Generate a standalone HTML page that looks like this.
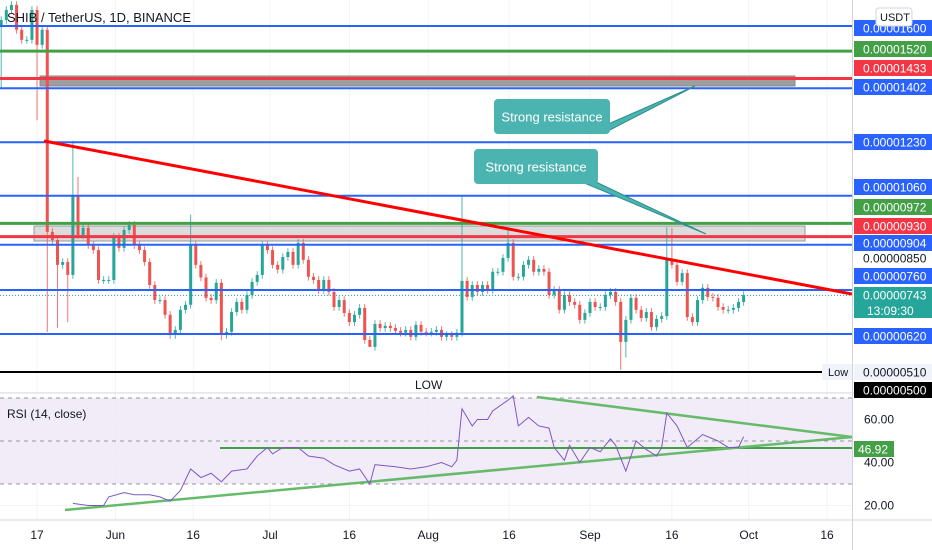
<!DOCTYPE html>
<html><head><meta charset="utf-8"><style>
body{margin:0;background:#fff;font-family:"Liberation Sans",sans-serif}
svg{display:block}
</style></head><body>
<svg id="c" width="932" height="550" viewBox="0 0 932 550" xmlns="http://www.w3.org/2000/svg">
<defs><clipPath id="pp"><rect x="0" y="0" width="852" height="392"/></clipPath><clipPath id="rp"><rect x="0" y="393" width="852" height="127"/></clipPath></defs>
<g id="grid"></g>
<g id="price" clip-path="url(#pp)"></g>
<g id="rsi" clip-path="url(#rp)"></g>
<g id="over"></g>
</svg>
<script>
const closes=[1619,1651,1667,1588,1556,1556,1651,1540,1588,945,919,840,849,808,1062,935,958,903,887,792,792,792,929,894,951,967,903,887,849,776,728,728,681,617,633,697,713,903,840,800,735,728,783,617,627,690,722,697,744,786,808,903,887,840,825,865,881,840,910,856,802,792,760,792,754,706,728,687,658,681,703,601,579,652,639,646,639,630,624,633,611,649,627,624,627,633,611,617,611,624,789,738,776,754,776,760,818,818,862,910,802,802,840,856,818,827,818,744,760,697,744,722,713,665,687,722,706,706,744,754,722,595,665,735,697,671,690,642,668,677,856,840,786,814,674,658,728,767,738,735,706,697,697,703,722,744];
const bigHighDays=[9,14,15,37,90,99,130,131];
const bigHighVals=[1600,1235,1120,1000,1060,960,960,957];
const bigLowDays=[0,7,9,11,13,43,72,121,122];
const bigLowVals=[1402,1300,627,640,658,600,590,506,545];
const rsiDays=[14,17,20,21,24,26,29,31,33,35,37,39,41,43,45,48,50,52,53,55,58,60,63,65,68,70,72,73,77,80,83,86,88,89,90,92,93,95,96,99,100,101,103,105,107,108,110,111,113,115,117,119,120,122,124,126,128,129,130,132,134,137,140,142,144,145];
const rsiValues=[21,20,20,24,26,25,25,24,22,27,37,33,35,31,36,37,43,47,44,47,47,43,42,39,36,37,30,39,38,37,38,40,38,41,65,57,60,60,64,69,71,57,61,57,56,47,41,48,40,47,45,51,48,36,50,46,43,47,63,57,47,53,50,47,47,52];
const levelPrices=[1600,1520,1433,1402,1230,1060,972,930,904,760,620];
const levelColors=['#2962ff','#43a047','#f23645','#2962ff','#2962ff','#2962ff','#43a047','#f23645','#2962ff','#2962ff','#2962ff'];
const dateLabels=['17','Jun','16','Jul','16','Aug','16','Sep','16','Oct','16'];
const dateDays=[7,22.3,37.5,52.5,68,83.4,99.2,115,131,146,161.3];
const rsiTicks=[60,40,20];

const NS='http://www.w3.org/2000/svg';
const xD=d=>1.2+d*5.12;
const yP=p=>26+(1600-p)*0.3143;
const yR=v=>441-(v-50)*2.15;
function mk(par,tag,at,txt){const e=document.createElementNS(NS,tag);for(const k in at)e.setAttribute(k,at[k]);if(txt!==undefined)e.textContent=txt;par.appendChild(e);return e;}
const G=document.getElementById('grid'),P=document.getElementById('price'),R=document.getElementById('rsi'),O=document.getElementById('over');

dateDays.forEach(d=>{const l=mk(G,'line',{x1:xD(d),x2:xD(d),y1:0,y2:520,stroke:'#f0f3fa','stroke-width':1});

});
[20,60,40].forEach(v=>{mk(G,'line',{x1:0,x2:852,y1:yR(v),y2:yR(v),stroke:'#f0f3fa'});});
const band=mk(R,'rect',{x:0,y:yR(70),width:852,height:yR(30)-yR(70),fill:'#ede7f6',opacity:0.8});


[70,50,30].forEach(v=>{const l=mk(R,'line',{x1:0,x2:852,y1:yR(v),y2:yR(v),stroke:'#9598a1','stroke-dasharray':'4 4'});

});

let z=mk(P,'rect',{x:40,y:76,width:755,height:10,fill:'#9e9e9e',stroke:'#888'});


z=mk(P,'rect',{x:34,y:226,width:771,height:15,fill:'#dcdcdc',stroke:'#999'});



closes.forEach((c,d)=>{
 const o=d===0?1600:closes[d-1];
 let hi=Math.max(o,c)+12,lo=Math.min(o,c)-12;
 const hi2=bigHighDays.indexOf(d);if(hi2>=0)hi=bigHighVals[hi2];
 const lo2=bigLowDays.indexOf(d);if(lo2>=0)lo=bigLowVals[lo2];
 const col=c>=o?'#26a69a':'#ef5350';const x=xD(d);
 const g=mk(P,'g',{});
 
 
 mk(g,'line',{x1:x,x2:x,y1:yP(hi),y2:yP(lo),stroke:col,'stroke-width':1,opacity:0.8});
 const t=Math.min(yP(o),yP(c));
 mk(g,'rect',{x:x-1.5,y:t,width:3,height:Math.max(1,Math.abs(yP(o)-yP(c))),fill:col});
});

levelPrices.forEach((p,i)=>{const l=mk(P,'line',{x1:0,x2:852,y1:yP(p),y2:yP(p),stroke:levelColors[i],'stroke-width':levelColors[i]==='#2962ff'?2:3});

});
let cur=mk(P,'line',{x1:0,x2:852,y1:yP(743),y2:yP(743),stroke:'#26a69a','stroke-dasharray':'1 2'});


let low=mk(P,'line',{x1:0,x2:822,y1:372,y2:372,stroke:'#000','stroke-width':2});


let tr=mk(P,'line',{x1:44,y1:141,x2:852,y2:294,stroke:'#ff0000','stroke-width':3});



function callout(name,x,y,w,h,tx,ty,bx1,bx2){const g=mk(O,'g',{});


mk(g,'polygon',{points:`${bx1},${y+h-2} ${bx2},${y+h-2} ${tx},${ty}`,fill:'#4bb3b0',stroke:'#2e8f8c'});
mk(g,'rect',{x:x,y:y,width:w,height:h,rx:4,fill:'#4bb3b0'});
mk(g,'text',{x:x+w/2,y:y+h/2+5,'text-anchor':'middle','font-size':13,fill:'#fff'},'Strong resistance');}
callout('strong-resistance-callout-1',494,99,116,35,695,86,590,606);
callout('strong-resistance-callout-2',474,149,124,35,706,234,582,596);

let gl=mk(R,'line',{x1:220,x2:852,y1:448,y2:448,stroke:'#43a047','stroke-width':2});


gl=mk(R,'line',{x1:65,y1:510,x2:852,y2:437,stroke:'#66bb6a','stroke-width':2.5});


gl=mk(R,'line',{x1:537,y1:397,x2:852,y2:437,stroke:'#66bb6a','stroke-width':2.5});


let rl=mk(R,'polyline',{points:rsiDays.map((d,i)=>xD(d)+','+yR(rsiValues[i])).join(' '),fill:'none',stroke:'#7e57c2','stroke-width':1});



mk(O,'line',{x1:0,x2:932,y1:393,y2:393,stroke:'#d1d4dc'});
mk(O,'line',{x1:0,x2:932,y1:520,y2:520,stroke:'#d1d4dc'});
mk(O,'line',{x1:852.5,x2:852.5,y1:0,y2:550,stroke:'#d1d4dc'});
dateLabels.forEach((t,i)=>{const e=mk(O,'text',{x:xD(dateDays[i]),y:539,'text-anchor':'middle','font-size':12,fill:'#131722'},t);

});
rsiTicks.forEach(v=>{const e=mk(O,'text',{x:864,y:yR(v)+4,'font-size':12,fill:'#131722'},v.toFixed(2));

});

const plabs=[['0.00001600',20,'#2962ff','#fff'],['0.00001520',41,'#43a047','#fff'],['0.00001433',60,'#f23645','#fff'],['0.00001402',79,'#2962ff','#fff'],['0.00001230',134,'#2962ff','#fff'],['0.00001060',179,'#2962ff','#fff'],['0.00000972',199,'#43a047','#fff'],['0.00000930',218,'#f23645','#fff'],['0.00000904',235,'#2962ff','#fff'],['0.00000850',250,'none','#131722'],['0.00000760',268,'#2962ff','#fff'],['0.00000743',287,'#26a69a','#fff'],['0.00000620',328,'#2962ff','#fff'],['0.00000510',364,'#f0f3fa','#131722'],['0.00000500',382,'#000','#fff']];
plabs.forEach(a=>{const g=mk(O,'g',{});


if(a[2]!=='none')mk(g,'rect',{x:854,y:a[1],width:78,height:16,fill:a[2]});
mk(g,'text',{x:863,y:a[1]+12.5,'font-size':12,fill:a[3]},a[0]);});
mk(O,'rect',{x:854,y:303,width:78,height:15,fill:'#26a69a'});
mk(O,'text',{x:867,y:315,'font-size':12,fill:'#fff'},'13:09:30');
mk(O,'rect',{x:822,y:364,width:30,height:16,fill:'#f0f3fa'});
mk(O,'text',{x:828,y:376,'font-size':11,fill:'#131722'},'Low');
let rb=mk(O,'rect',{x:854,y:441,width:40,height:16,fill:'#43a047'});


mk(O,'text',{x:858,y:453.5,'font-size':12,fill:'#fff'},'46.92');
let ub=mk(O,'rect',{x:876,y:8,width:36,height:18,rx:3,fill:'#fff',stroke:'#d1d4dc'});


mk(O,'text',{x:880,y:21,'font-size':11,fill:'#131722'},'USDT');
let tt=mk(O,'text',{x:7,y:22,'font-size':13,fill:'#131722'},'SHIB / TetherUS, 1D, BINANCE');


let lt=mk(O,'text',{x:415,y:389,'font-size':12,fill:'#131722'},'LOW');


let rt=mk(O,'text',{x:7,y:418,'font-size':12,fill:'#131722'},'RSI (14, close)');


</script>
</body></html>
